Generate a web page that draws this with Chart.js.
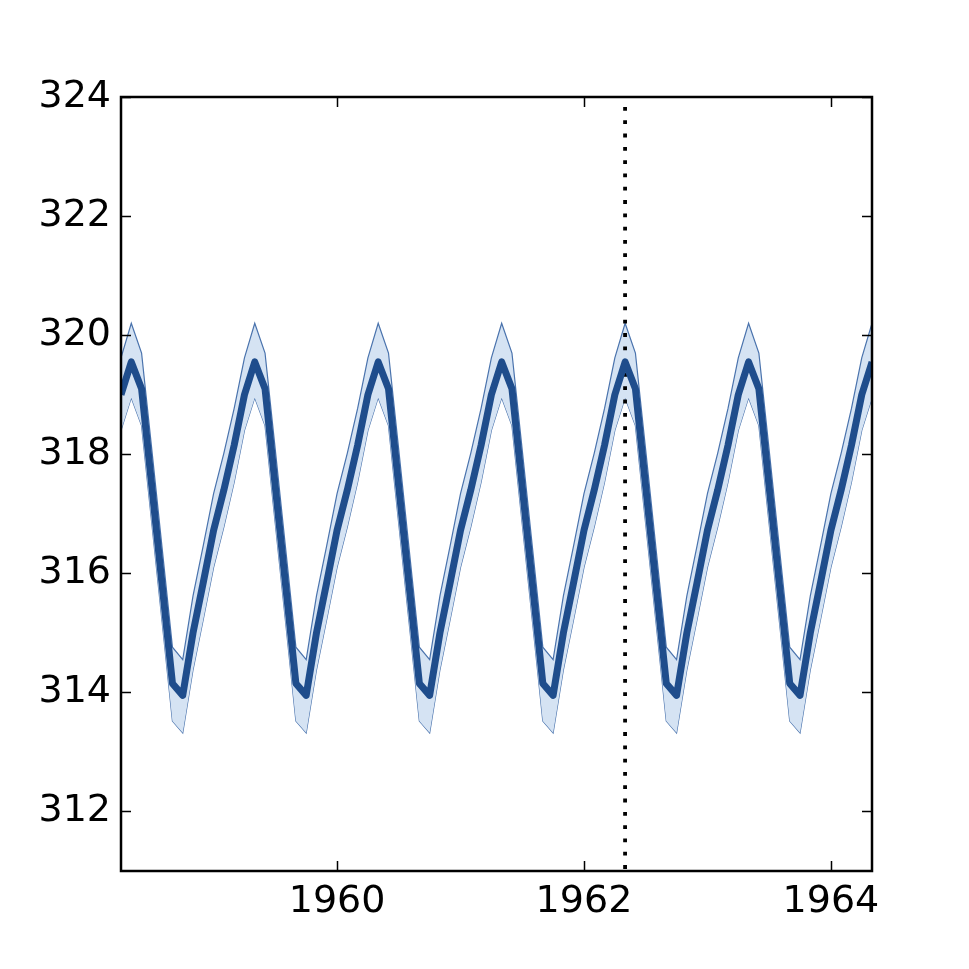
<!DOCTYPE html>
<html>
<head>
<meta charset="utf-8">
<title>CO2 seasonal model</title>
<script src="https://cdn.jsdelivr.net/npm/chart.js@4.4.1/dist/chart.umd.min.js"></script>
<style>
  html, body { margin: 0; padding: 0; background: #ffffff; }
  #wrap { width: 969px; height: 969px; }
</style>
</head>
<body>
<div id="wrap"><canvas id="myChart" width="969" height="969"></canvas></div>
<script>
// monthly series, first point is April 1958, last is May 1964
const startYear = 1958;
const startMonth = 4;

const meanValues = [
  319.00, 319.55, 319.10, 317.45, 315.80, 314.15, 313.95, 315.00, 315.85, // 1958
  316.72, 317.40, 318.15, 319.00, 319.55, 319.10, 317.45, 315.80, 314.15, 313.95, 315.00, 315.85, // 1959
  316.72, 317.40, 318.15, 319.00, 319.55, 319.10, 317.45, 315.80, 314.15, 313.95, 315.00, 315.85, // 1960
  316.72, 317.40, 318.15, 319.00, 319.55, 319.10, 317.45, 315.80, 314.15, 313.95, 315.00, 315.85, // 1961
  316.72, 317.40, 318.15, 319.00, 319.55, 319.10, 317.45, 315.80, 314.15, 313.95, 315.00, 315.85, // 1962
  316.72, 317.40, 318.15, 319.00, 319.55, 319.10, 317.45, 315.80, 314.15, 313.95, 315.00, 315.85, // 1963
  316.72, 317.40, 318.15, 319.00, 319.55, // 1964
];

const upperValues = [
  319.62, 320.20, 319.70, 318.07, 316.42, 314.76, 314.55, 315.62, 316.47,
  317.34, 318.02, 318.77, 319.62, 320.20, 319.70, 318.07, 316.42, 314.76, 314.55, 315.62, 316.47,
  317.34, 318.02, 318.77, 319.62, 320.20, 319.70, 318.07, 316.42, 314.76, 314.55, 315.62, 316.47,
  317.34, 318.02, 318.77, 319.62, 320.20, 319.70, 318.07, 316.42, 314.76, 314.55, 315.62, 316.47,
  317.34, 318.02, 318.77, 319.62, 320.20, 319.70, 318.07, 316.42, 314.76, 314.55, 315.62, 316.47,
  317.34, 318.02, 318.77, 319.62, 320.20, 319.70, 318.07, 316.42, 314.76, 314.55, 315.62, 316.47,
  317.34, 318.02, 318.77, 319.62, 320.20,
];

const lowerValues = [
  318.40, 318.95, 318.48, 316.83, 315.18, 313.52, 313.32, 314.38, 315.23,
  316.10, 316.78, 317.53, 318.40, 318.95, 318.48, 316.83, 315.18, 313.52, 313.32, 314.38, 315.23,
  316.10, 316.78, 317.53, 318.40, 318.95, 318.48, 316.83, 315.18, 313.52, 313.32, 314.38, 315.23,
  316.10, 316.78, 317.53, 318.40, 318.95, 318.48, 316.83, 315.18, 313.52, 313.32, 314.38, 315.23,
  316.10, 316.78, 317.53, 318.40, 318.95, 318.48, 316.83, 315.18, 313.52, 313.32, 314.38, 315.23,
  316.10, 316.78, 317.53, 318.40, 318.95, 318.48, 316.83, 315.18, 313.52, 313.32, 314.38, 315.23,
  316.10, 316.78, 317.53, 318.40, 318.95,
];

const forecastStart = 1962.333; // dotted vertical marker (May 1962)
const xTicks = [1960, 1962, 1964];
const yTicks = [312, 314, 316, 318, 320, 322, 324];
const xRange = [1958.25, 1964.333];
const yRange = [311, 324];

function toPoints(values) {
  return values.map((v, i) => ({ x: startYear + (startMonth - 1 + i) / 12, y: v }));
}

// frame + inward ticks on all four sides, matplotlib style
const frameTicks = {
  id: "frameTicks",
  afterDraw(chart) {
    const ctx = chart.ctx;
    const a = chart.chartArea;
    const xs = chart.scales.x;
    const ys = chart.scales.y;
    const len = 10;
    ctx.save();
    ctx.strokeStyle = "#000000";
    ctx.lineWidth = 1.5;
    ctx.beginPath();
    for (let v of xTicks) {
      const px = Math.round(xs.getPixelForValue(v)) + 0.5;
      ctx.moveTo(px, a.bottom);
      ctx.lineTo(px, a.bottom - len);
      ctx.moveTo(px, a.top);
      ctx.lineTo(px, a.top + len);
    }
    for (let v of yTicks) {
      const py = Math.round(ys.getPixelForValue(v)) + 0.5;
      ctx.moveTo(a.left, py);
      ctx.lineTo(a.left + len, py);
      ctx.moveTo(a.right, py);
      ctx.lineTo(a.right - len, py);
    }
    ctx.stroke();
    ctx.lineWidth = 2.5;
    ctx.strokeRect(a.left, a.top, a.right - a.left, a.bottom - a.top);
    ctx.restore();
  },
};

const ctx = document.getElementById("myChart");

new Chart(ctx, {
  type: "line",
  data: {
    datasets: [
      {
        label: "mean",
        data: toPoints(meanValues),
        borderColor: "#1f4d8c",
        borderWidth: 7,
        borderJoinStyle: "round",
        pointRadius: 0,
        fill: false,
        tension: 0,
        order: 0,
      },
      {
        label: "forecast start",
        // drawn top-down so the first dot sits a little under the frame
        data: [
          { x: forecastStart, y: yRange[1] },
          { x: forecastStart, y: yRange[0] },
        ],
        borderColor: "#000000",
        borderWidth: 3.8,
        borderDash: [3.8, 9.5],
        borderDashOffset: 3.3,
        pointRadius: 0,
        fill: false,
        order: 1,
      },
      {
        label: "lower",
        data: toPoints(lowerValues),
        borderColor: "#4a73ad",
        borderWidth: 1.2,
        pointRadius: 0,
        fill: false,
        tension: 0,
        order: 3,
      },
      {
        label: "upper",
        data: toPoints(upperValues),
        borderColor: "#4a73ad",
        backgroundColor: "#d5e3f3",
        borderWidth: 1.2,
        pointRadius: 0,
        fill: "-1",
        tension: 0,
        order: 2,
      },
    ],
  },
  options: {
    responsive: false,
    animation: false,
    layout: {
      padding: { top: 97, right: 97, left: 0, bottom: 0 },
    },
    plugins: {
      legend: { display: false },
      tooltip: { enabled: false },
    },
    scales: {
      x: {
        type: "linear",
        min: xRange[0],
        max: xRange[1],
        afterBuildTicks: (scale) => {
          scale.ticks = xTicks.map((v) => ({ value: v }));
        },
        afterFit: (scale) => {
          scale.height = 98;
        },
        grid: { display: false, drawTicks: false },
        border: { display: false },
        ticks: {
          padding: 8,
          maxRotation: 0,
          color: "#000000",
          font: { family: "DejaVu Sans", size: 38 },
          callback: (v) => String(v),
        },
      },
      y: {
        type: "linear",
        min: yRange[0],
        max: yRange[1],
        afterBuildTicks: (scale) => {
          scale.ticks = yTicks.map((v) => ({ value: v }));
        },
        afterFit: (scale) => {
          scale.width = 121;
        },
        grid: { display: false, drawTicks: false },
        border: { display: false },
        ticks: {
          padding: 10,
          color: "#000000",
          font: { family: "DejaVu Sans", size: 38 },
          callback: (v) => String(v),
        },
      },
    },
  },
  plugins: [frameTicks],
});
</script>
</body>
</html>
